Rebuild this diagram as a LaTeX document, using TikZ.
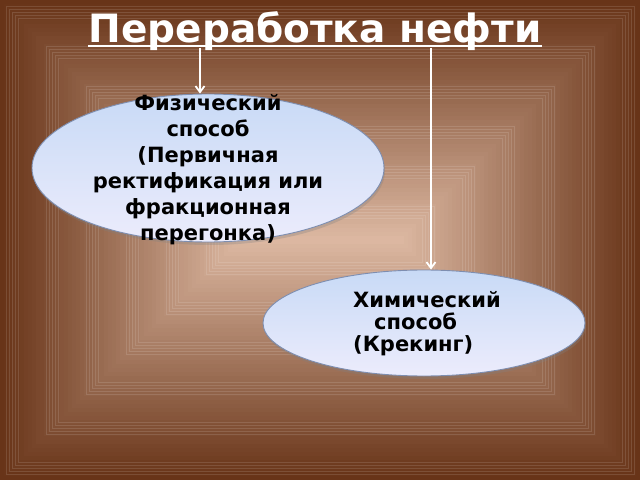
\documentclass[tikz,border=0pt]{standalone}
\usepackage{fontspec}
\setmainfont{DejaVu Sans}
\usetikzlibrary{arrows.meta,shadows,shapes.geometric}
\begin{document}
\begin{tikzpicture}[x=1pt,y=1pt,
  wayellipse/.style={ellipse,draw=rimblue,line width=0.9pt,top color=skytop,bottom color=skybottom,inner sep=0pt,
    drop shadow={shadow xshift=1pt,shadow yshift=-3pt,opacity=0.3}},
  waytext/.style={font=\bfseries\fontsize{21}{26}\selectfont,align=center,text=black},
  flowarrow/.style={draw=white,line width=1.8pt,-{Straight Barb[length=6pt,width=9pt]}}]
\definecolor{oakdark}{RGB}{104,52,24}
\definecolor{oaklight}{RGB}{222,186,164}
\definecolor{skytop}{RGB}{200,218,246}
\definecolor{skybottom}{RGB}{236,236,252}
\definecolor{rimblue}{RGB}{126,142,176}
\useasboundingbox (0,0) rectangle (640,480);
% backdrop
\foreach \d in {0,4,...,236}
  {\pgfmathtruncatemacro{\mix}{\d/2.4}
   \fill[oaklight!\mix!oakdark] (\d,\d) rectangle (640-\d,480-\d);}
\foreach \b in {6,46,...,206}
  {\foreach \k in {0,3,...,12}
    {\draw[white,opacity=0.12,line width=0.6pt] (\b+\k,\b+\k) rectangle (640-\b-\k,480-\b-\k);}}
% title
\node[font=\bfseries\fontsize{39}{44}\selectfont,text=white,anchor=base,inner xsep=0pt] (title) at (315,437) {Переработка нефти};
\coordinate (uline) at ([yshift=-3pt]title.base);
\draw[white,line width=2.5pt] (uline -| title.west) -- (uline -| title.east);
% the two ways
\node[wayellipse,minimum width=352,minimum height=148] (phys) at (208,312) {};
\node[waytext] (physText) at (208,310) {Физический\\способ\\(Первичная\\ректификация или\\фракционная\\перегонка)};
\node[wayellipse,minimum width=322,minimum height=106] (chem) at (424,157) {};
\node[waytext,align=left,font=\bfseries\fontsize{21}{22}\selectfont] (chemText) at (427,156) {Химический\\\hspace*{1em}способ\\(Крекинг)};
\draw[flowarrow] ([xshift=-8pt,yshift=-2pt]phys.north |- uline) -- ([xshift=-8pt]phys.north);
\draw[flowarrow] ([xshift=7pt,yshift=-2pt]chem.north |- uline) -- ([xshift=7pt]chem.north);
\end{tikzpicture}
\end{document}
